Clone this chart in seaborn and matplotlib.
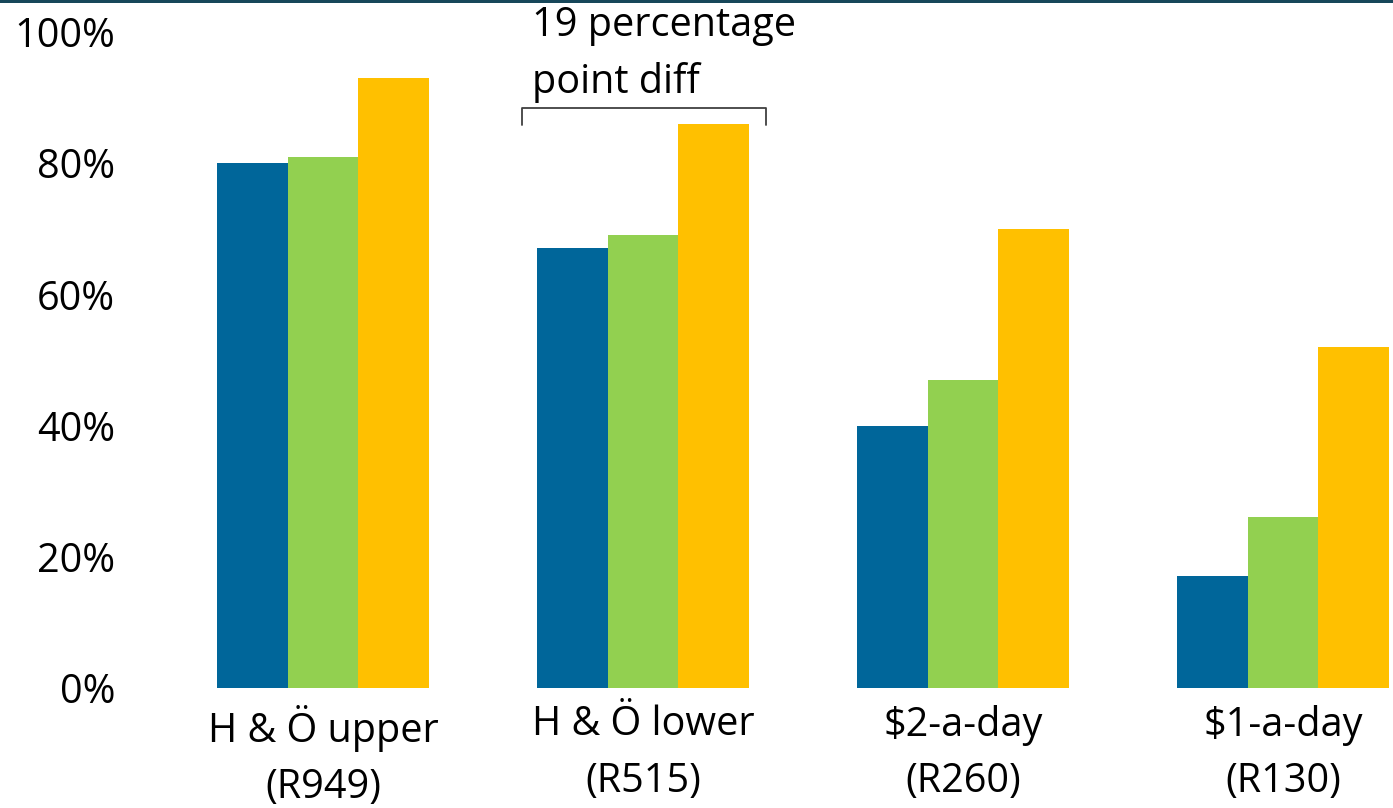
import matplotlib
matplotlib.use("Agg")
import matplotlib.pyplot as plt
import matplotlib.patches as mpatches
import seaborn as sns
import pandas as pd

# Poverty lines (x categories) and the three compared series
categories = ["H & Ö upper\n(R949)", "H & Ö lower\n(R515)", "$2-a-day\n(R260)", "$1-a-day\n(R130)"]
series_names = ["Series A", "Series B", "Series C"]
series_a = [80, 67, 40, 17]
series_b = [81, 69, 47, 26]
series_c = [93, 86, 70, 52]
yticks = [0, 20, 40, 60, 80, 100]
ytick_labels = ["0%", "20%", "40%", "60%", "80%", "100%"]
palette = ["#00669A", "#92D050", "#FFC000"]

df = pd.DataFrame({
    "category": categories * 3,
    "series": [s for s in series_names for _ in categories],
    "value": series_a + series_b + series_c,
})

sns.set_theme(style="white")
plt.rcParams["font.family"] = ["Open Sans", "DejaVu Sans"]
FS = 28.5
LS = 1.52

fig = plt.figure(figsize=(13.93, 8.08), dpi=100)
ax = fig.add_axes([163 / 1393, 120 / 808, 1 - 163 / 1393, 656 / 808])

sns.barplot(data=df, x="category", y="value", hue="series", order=categories,
            hue_order=series_names, palette=palette, width=0.663, gap=0,
            saturation=1, legend=False, ax=ax)
for p in ax.patches:
    p.set_edgecolor("none")

ax.set_xlim(-0.5, -0.5 + (1393 - 163) / 320)
ax.set_ylim(0, 100)
ax.set_yticks(yticks)
ax.set_yticklabels(ytick_labels, fontsize=FS, color="black")
ax.tick_params(axis="x", labelsize=FS, labelcolor="black", pad=12, length=0)
ax.tick_params(axis="y", pad=34.5, length=0)
for lbl in ax.get_yticklabels():
    lbl.set_horizontalalignment("right")
for lbl in ax.get_xticklabels():
    lbl.set_linespacing(LS)
ax.set_xlabel("")
ax.set_ylabel("")
for s in ax.spines.values():
    s.set_visible(False)

# Bracket spanning the second group, with its note
bx0, bx1 = 1 - 0.378, 1 + 0.384
ylo, yhi = 85.8, 88.4
ax.plot([bx0, bx0, bx1, bx1], [ylo, yhi, yhi, ylo], color="#404040", lw=1.3,
        solid_joinstyle="round", clip_on=False)
ax.text(bx0 + 0.03, 104.0, "19 percentage\npoint diff", fontsize=FS,
        color="black", ha="left", va="top", linespacing=LS, clip_on=False)

# Dark rule along the top edge
fig.add_artist(mpatches.Rectangle((0, 1 - 3 / 808), 1, 3 / 808,
                                  transform=fig.transFigure, color="#17475A",
                                  lw=0))

fig.savefig("out.png", dpi=100)
